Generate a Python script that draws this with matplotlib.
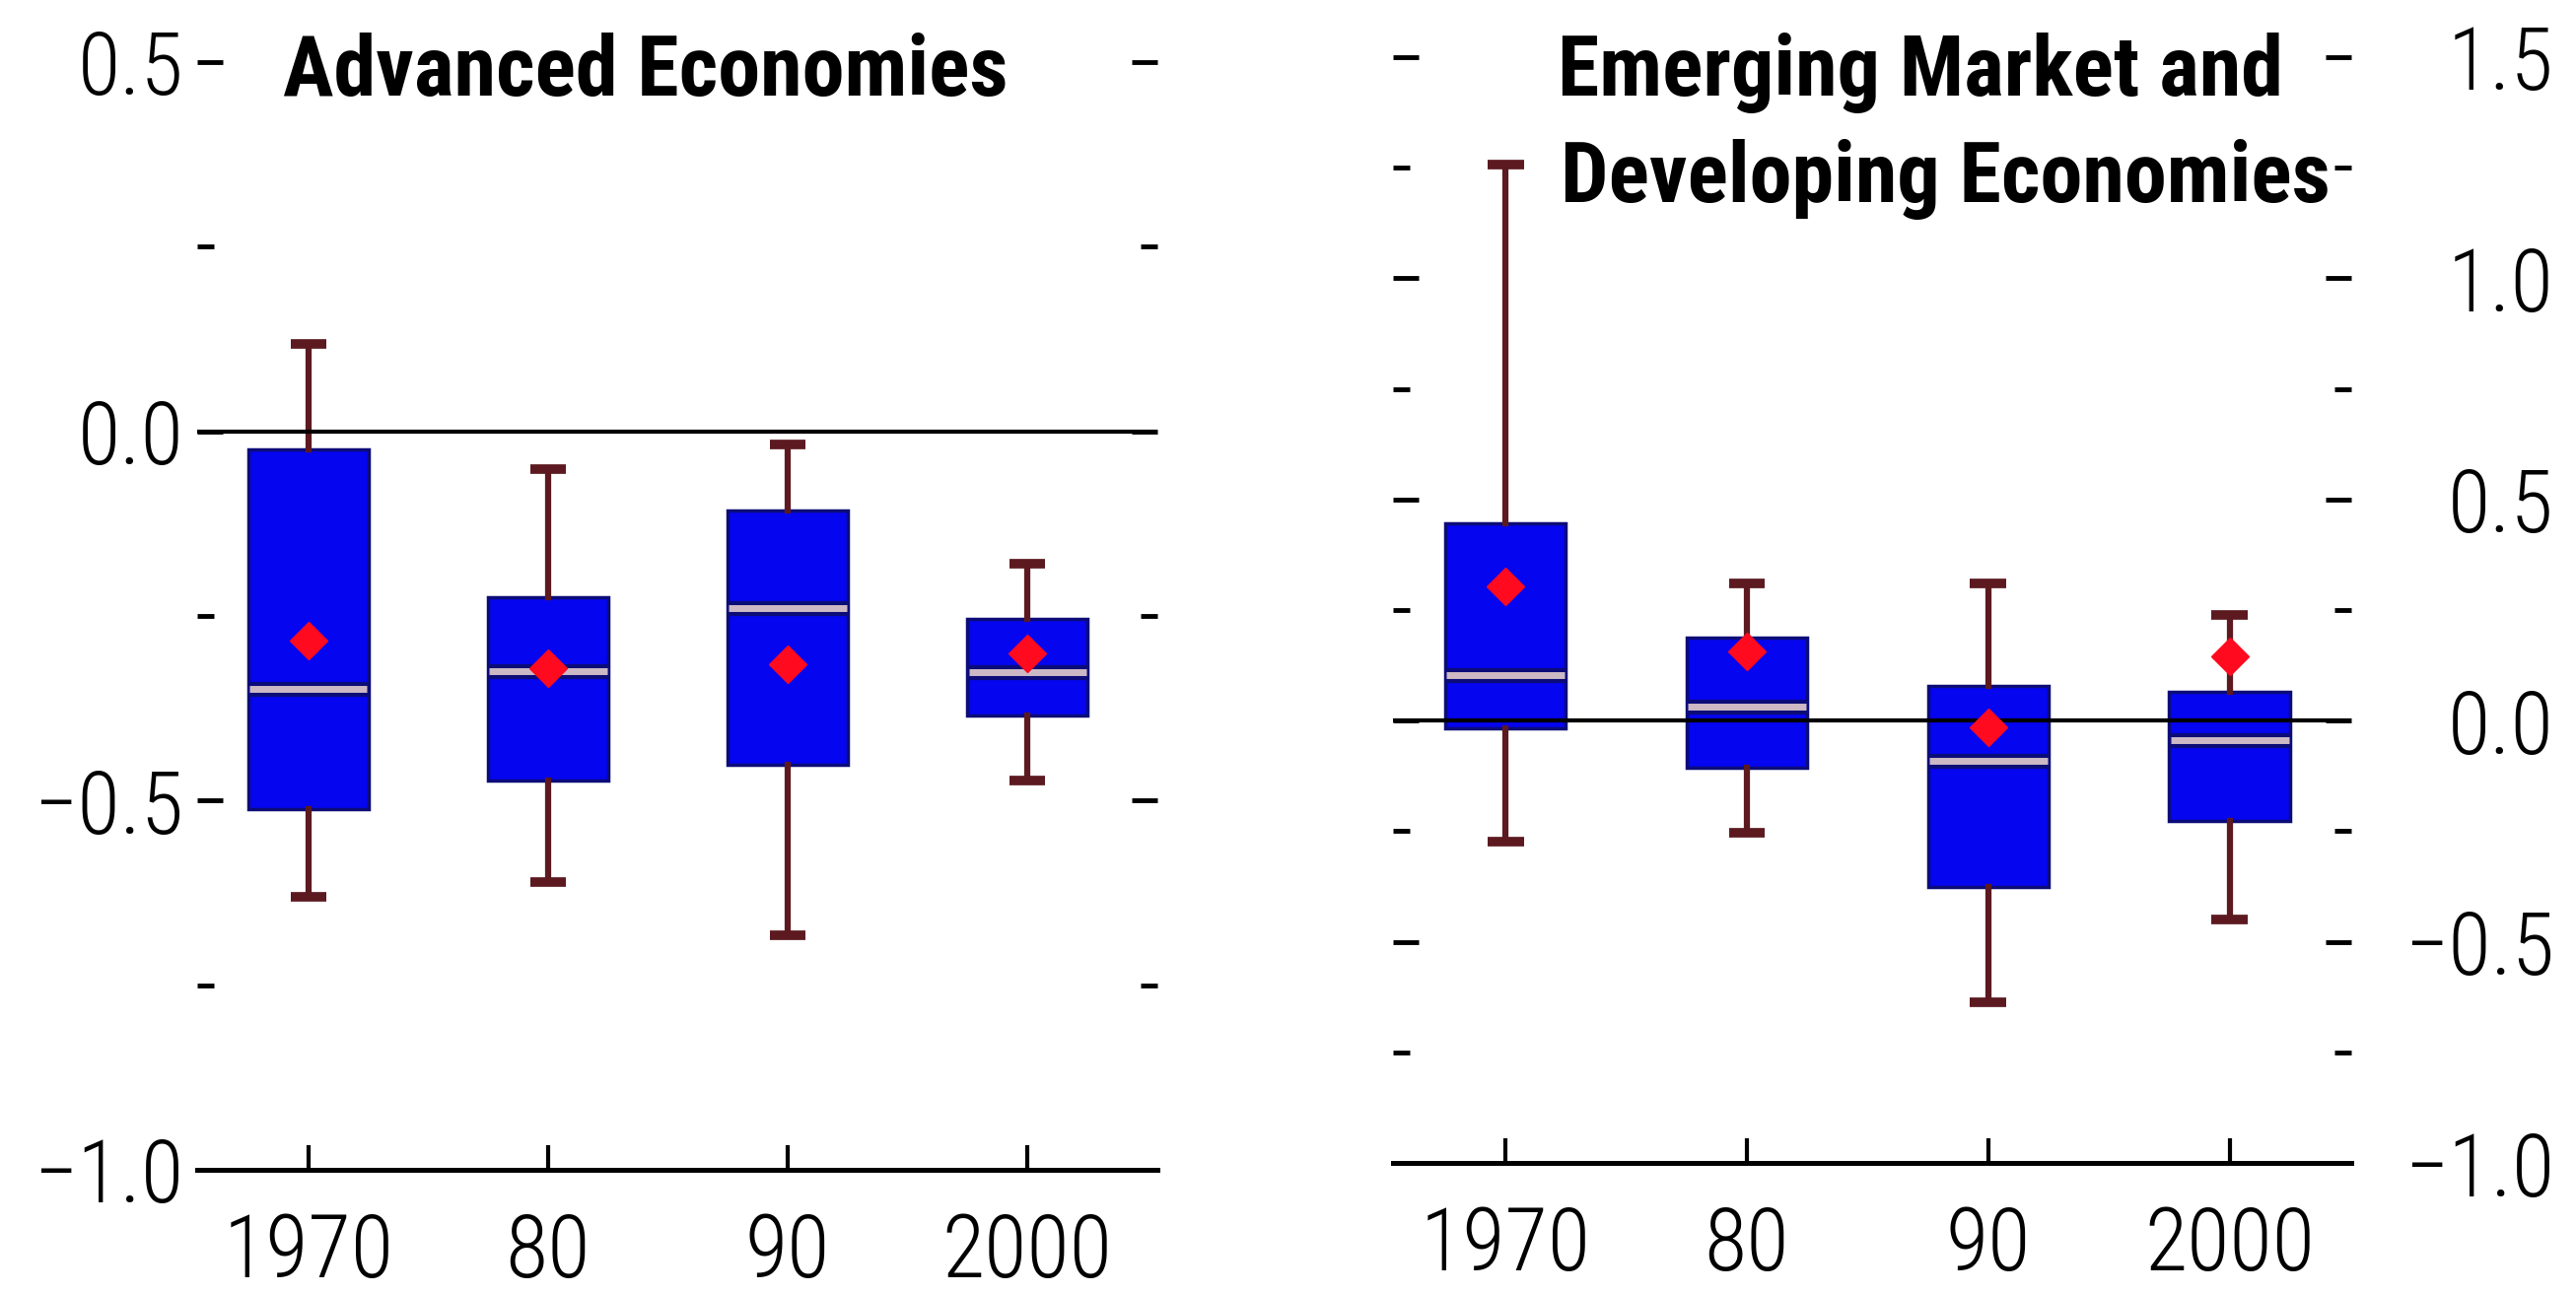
import matplotlib.pyplot as plt
from matplotlib.ticker import MultipleLocator, FixedLocator

plt.rcParams['font.family'] = ['Roboto Condensed', 'PT Sans Narrow', 'Liberation Sans']
plt.rcParams['axes.unicode_minus'] = True

# === Data: box summaries by decade ===
decades = ['1970', '80', '90', '2000']

# Advanced economies
adv_whishi = [0.118, -0.051, -0.018, -0.179]
adv_q3 = [-0.024, -0.225, -0.107, -0.254]
adv_med = [-0.349, -0.325, -0.239, -0.326]
adv_q1 = [-0.511, -0.473, -0.451, -0.385]
adv_whislo = [-0.630, -0.610, -0.683, -0.473]
adv_mean = [-0.283, -0.321, -0.315, -0.301]

# Emerging market and developing economies
emde_whishi = [1.256, 0.310, 0.310, 0.238]
emde_q3 = [0.446, 0.188, 0.078, 0.065]
emde_med = [0.102, 0.032, -0.092, -0.045]
emde_q1 = [-0.017, -0.106, -0.376, -0.226]
emde_whislo = [-0.273, -0.254, -0.637, -0.449]
emde_mean = [0.303, 0.156, -0.015, 0.145]

BOX_BLUE = '#0505f0'
BOX_EDGE = '#0c0c78'
WHISK = '#5c1a20'
MEAN_RED = '#ff0a1e'
MED_LIGHT = '#cdb9c6'
TICK_FS = 64
TITLE_FS = 62


def make_stats(whislo, q1, med, q3, whishi, mean):
    stats = []
    for i in range(len(med)):
        stats.append({'whislo': whislo[i], 'q1': q1[i], 'med': med[i],
                      'q3': q3[i], 'whishi': whishi[i], 'mean': mean[i],
                      'fliers': []})
    return stats


def draw_panel(ax, stats, ylim, xlim):
    pos = list(range(len(stats)))
    ax.bxp(stats, positions=pos, widths=0.5, capwidths=0.15,
           patch_artist=True, showmeans=True, showfliers=False,
           boxprops=dict(facecolor=BOX_BLUE, edgecolor=BOX_EDGE, linewidth=2.5),
           whiskerprops=dict(color=WHISK, linewidth=4.5),
           capprops=dict(color=WHISK, linewidth=7, solid_capstyle='butt'),
           medianprops=dict(color=BOX_EDGE, linewidth=11, solid_capstyle='butt'),
           meanprops=dict(marker='D', markersize=19, markerfacecolor=MEAN_RED,
                          markeredgecolor=MEAN_RED, zorder=6))
    # light stripe inside the median line
    for p, s in zip(pos, stats):
        ax.plot([p - 0.245, p + 0.245], [s['med'], s['med']], color=MED_LIGHT,
                linewidth=5, solid_capstyle='butt', zorder=4)

    ax.axhline(0, color='black', linewidth=3, zorder=3.5)

    ax.set_ylim(*ylim)
    ax.set_xlim(*xlim)
    ax.set_xticks(pos)
    ax.set_xticklabels(decades)

    for side in ['top', 'left', 'right']:
        ax.spines[side].set_visible(False)
    ax.spines['bottom'].set_linewidth(3.6)

    ax.yaxis.set_major_locator(MultipleLocator(0.5))
    ax.yaxis.set_minor_locator(MultipleLocator(0.25))
    ax.xaxis.set_minor_locator(FixedLocator([]))
    ax.tick_params(axis='x', direction='in', length=18, width=3,
                   labelsize=TICK_FS, pad=30)
    ax.tick_params(axis='y', which='both', direction='in', left=True, right=True,
                   width=3.5, labelsize=TICK_FS)
    ax.tick_params(axis='y', which='major', length=19)
    ax.tick_params(axis='y', which='minor', length=12)


fig = plt.figure(figsize=(26.13, 13.12), dpi=100)

# --- Left panel: Advanced Economies ---
ax1 = fig.add_axes([0.0765, 0.0953, 0.3728, 0.8567])
draw_panel(ax1, make_stats(adv_whislo, adv_q1, adv_med, adv_q3, adv_whishi, adv_mean),
           (-1.0, 0.5), (-0.465, 3.543))
ax1.tick_params(axis='y', labelleft=True, labelright=False, pad=10)
ax1.text(0.089, 0.455, 'Advanced Economies', transform=ax1.get_yaxis_transform(),
         fontsize=TITLE_FS, fontweight='bold', ha='left', va='baseline')

# --- Right panel: Emerging Market and Developing Economies ---
ax2 = fig.add_axes([0.5408, 0.1006, 0.372, 0.8552])
draw_panel(ax2, make_stats(emde_whislo, emde_q1, emde_med, emde_q3, emde_whishi, emde_mean),
           (-1.0, 1.5), (-0.466, 3.505))
ax2.tick_params(axis='y', labelleft=False, labelright=True, pad=148)
for lab in ax2.get_yticklabels():
    lab.set_horizontalalignment('right')
ax2.text(0.172, 1.413, 'Emerging Market and', transform=ax2.get_yaxis_transform(),
         fontsize=TITLE_FS, fontweight='bold', ha='left', va='baseline')
ax2.text(0.175, 1.172, 'Developing Economies', transform=ax2.get_yaxis_transform(),
         fontsize=TITLE_FS, fontweight='bold', ha='left', va='baseline')

# thinner strokes for the tick numbers
for ax in (ax1, ax2):
    for lab in ax.get_xticklabels() + ax.get_yticklabels():
        lab.set_fontweight('light')

fig.savefig('out.png', dpi=100, facecolor='white')
